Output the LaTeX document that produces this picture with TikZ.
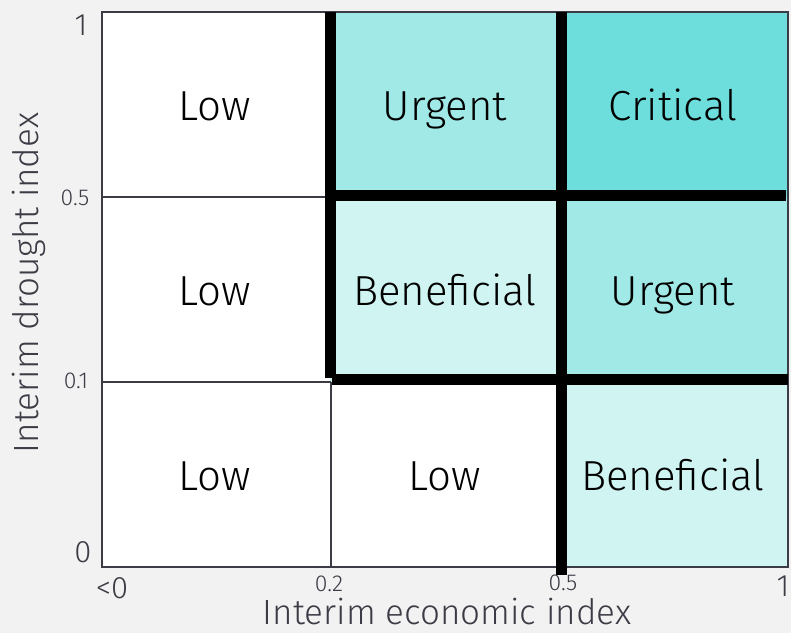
\documentclass[tikz,border=0pt]{standalone}
\usepackage{fontspec}
\setmainfont{Fira Sans Light}
\definecolor{bgc}{HTML}{F2F2F2}
\definecolor{framec}{HTML}{3C3C46}
\definecolor{critc}{HTML}{6DDEDC}
\definecolor{urgc}{HTML}{A0E9E7}
\definecolor{benc}{HTML}{CFF4F2}
\begin{document}
\begin{tikzpicture}[x=1pt,y=-1pt,
  cell/.style={font=\fontsize{42}{46}\selectfont, text=black, inner sep=0pt, anchor=base},
  bigtick/.style={font=\fontsize{31}{34}\selectfont, text=framec, inner sep=0pt},
  smalltick/.style={font=\fontsize{23}{26}\selectfont, text=framec, inner sep=0pt},
  axlab/.style={font=\fontsize{35}{38}\selectfont, text=framec, inner sep=0pt},
  thin/.style={draw=framec, line width=2pt},
  thick/.style={draw=black, line width=11pt, line cap=butt}]
\useasboundingbox (0,0) rectangle (791,633);
\fill[bgc] (0,0) rectangle (791,633);
% cells
\fill[white] (102,12) rectangle (788,567);
\fill[urgc] (330,12) rectangle (561,197);
\fill[critc] (561,12) rectangle (788,197);
\fill[benc] (330,197) rectangle (561,382);
\fill[urgc] (561,197) rectangle (788,382);
\fill[benc] (561,382) rectangle (788,567);
% thin grid
\draw[thin] (102,197) -- (326,197);
\draw[thin] (102,382) -- (331,382);
\draw[thin] (331,382) -- (331,567);
\draw[thin] (102,12) rectangle (788,567);
% thick lines
\coordinate (v1a) at (330,12);  \coordinate (v1b) at (330,378);
\coordinate (h1a) at (336,195); \coordinate (h1b) at (786,195);
\coordinate (v2a) at (561,12);  \coordinate (v2b) at (561,575);
\coordinate (h2a) at (332,379); \coordinate (h2b) at (788,379);
\draw[thick] (v1a) -- (v1b);
\draw[thick] (h1a) -- (h1b);
\draw[thick] (v2a) -- (v2b);
\draw[thick] (h2a) -- (h2b);
% cell labels
\node[cell] (c11) at (215,120) {Low};
\node[cell] (c12) at (445,120) {Urgent};
\node[cell] (c13) at (673,120) {Critical};
\node[cell] (c21) at (215,305) {Low};
\node[cell] (c22) at (445,305) {Beneficial};
\node[cell] (c23) at (673,305) {Urgent};
\node[cell] (c31) at (215,490) {Low};
\node[cell] (c32) at (445,490) {Low};
\node[cell] (c33) at (673,490) {Beneficial};
% ticks
\node[bigtick] (ty1) at (81,25) {1};
\node[smalltick] (ty5) at (75,198) {0.5};
\node[smalltick] (ty01) at (76,381) {0.1};
\node[bigtick] (ty0) at (83,552) {0};
\node[bigtick] (tx0) at (112,588) {<0};
\node[smalltick] (tx2) at (329,584) {0.2};
\node[smalltick] (tx5) at (563,583) {0.5};
\node[bigtick] (tx1) at (783,586) {1};
% axis labels
\node[axlab, anchor=base] (xl) at (447,624) {Interim economic index};
\node[axlab, rotate=90, anchor=base] (yl) at (38,283) {Interim drought index};
\end{tikzpicture}
\end{document}
